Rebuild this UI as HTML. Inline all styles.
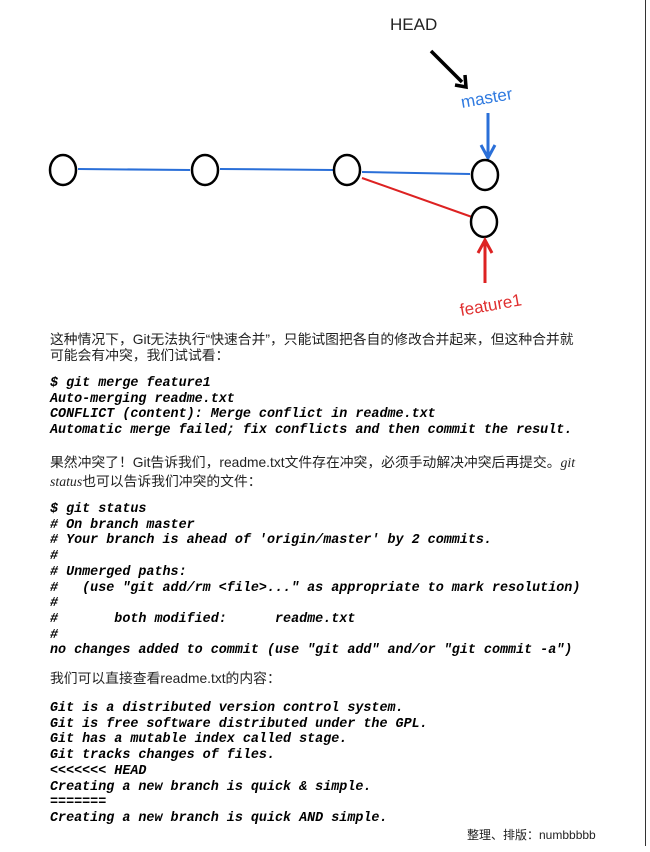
<!DOCTYPE html>
<html><head><meta charset="utf-8"><style>
body{margin:0;width:650px;height:852px;background:#fff;position:relative;overflow:hidden}
.t{position:absolute;left:50px;font-family:"Liberation Sans","Noto Sans CJK SC",sans-serif;font-size:13.8px;color:#222;line-height:16px;white-space:nowrap}
.c{position:absolute;left:50px;font-family:"Liberation Mono",monospace;font-weight:bold;font-style:italic;font-size:13.4px;line-height:15.7px;color:#000;white-space:pre}
.i{font-family:"Liberation Serif",serif;font-style:italic}
</style></head><body>
<div style="position:absolute;left:645px;top:0;width:1px;height:846px;background:#333"></div>
<svg style="position:absolute;left:0;top:0" width="650" height="320">
<text x="390" y="30" font-family="Liberation Sans" font-size="17" fill="#222">HEAD</text>
<line x1="431" y1="51" x2="462" y2="82" stroke="#000" stroke-width="3.5"/>
<path d="M455,85 L466,87 L465,75" fill="none" stroke="#000" stroke-width="3.5"/>
<text x="462" y="108" font-family="Liberation Sans" font-size="17" fill="#2f7ae0" transform="rotate(-10 462 108)">master</text>
<line x1="488" y1="113" x2="488" y2="155" stroke="#2a6fd8" stroke-width="3"/>
<path d="M481,145 L488,158 L495,145" fill="none" stroke="#2a6fd8" stroke-width="3"/>
<line x1="78" y1="169" x2="190" y2="170" stroke="#2a6fd8" stroke-width="2"/>
<line x1="220" y1="169" x2="333" y2="170" stroke="#2a6fd8" stroke-width="2"/>
<line x1="362" y1="172" x2="470" y2="174" stroke="#2a6fd8" stroke-width="2"/>
<line x1="362" y1="178" x2="472" y2="217" stroke="#d22" stroke-width="2"/>
<g fill="#fff" stroke="#000" stroke-width="2.5">
<ellipse cx="63" cy="170" rx="13" ry="15"/>
<ellipse cx="205" cy="170" rx="13" ry="15"/>
<ellipse cx="347" cy="170" rx="13" ry="15"/>
<ellipse cx="485" cy="175" rx="13" ry="15"/>
<ellipse cx="484" cy="222" rx="13" ry="15"/>
</g>
<line x1="485" y1="283" x2="485" y2="242" stroke="#d22" stroke-width="3"/>
<path d="M478,253 L485,240 L492,253" fill="none" stroke="#d22" stroke-width="3"/>
<text x="461" y="316" font-family="Liberation Sans" font-size="17" fill="#e03030" transform="rotate(-10 461 316)">feature1</text>
</svg>
<div class="t" style="top:332px">这种情况下，Git无法执行“快速合并”，只能试图把各自的修改合并起来，但这种合并就<br>可能会有冲突，我们试试看：</div>
<div class="c" style="top:376px">$ git merge feature1
Auto-merging readme.txt
CONFLICT (content): Merge conflict in readme.txt
Automatic merge failed; fix conflicts and then commit the result.</div>
<div class="t" style="top:453px;line-height:19px">果然冲突了！Git告诉我们，readme.txt文件存在冲突，必须手动解决冲突后再提交。<span class="i">git</span><br><span class="i">status</span>也可以告诉我们冲突的文件：</div>
<div class="c" style="top:502px">$ git status
# On branch master
# Your branch is ahead of 'origin/master' by 2 commits.
#
# Unmerged paths:
#   (use "git add/rm &lt;file&gt;..." as appropriate to mark resolution)
#
#       both modified:      readme.txt
#
no changes added to commit (use "git add" and/or "git commit -a")</div>
<div class="t" style="top:671px">我们可以直接查看readme.txt的内容：</div>
<div class="c" style="top:701px">Git is a distributed version control system.
Git is free software distributed under the GPL.
Git has a mutable index called stage.
Git tracks changes of files.
&lt;&lt;&lt;&lt;&lt;&lt;&lt; HEAD
Creating a new branch is quick &amp; simple.
=======
Creating a new branch is quick AND simple.</div>
<div class="t" style="left:467px;top:827px;font-size:12px">整理、排版：numbbbbb</div>
</body></html>
